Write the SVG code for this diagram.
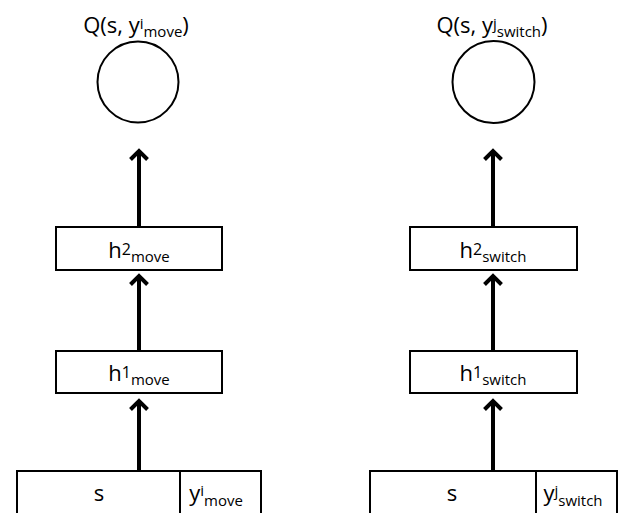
<svg xmlns="http://www.w3.org/2000/svg" width="619" height="513" viewBox="0 0 619 513">
  <style>
    .box { fill: #ffffff; stroke: #000000; stroke-width: 2; }
    .unit { fill: #ffffff; stroke: #000000; stroke-width: 2; }
    .lbl { font-family: "Open Sans", "Liberation Sans", Arial, sans-serif; font-size: 22px; fill: #000000; }
    .small { font-size: 15px; }
    .digit { font-size: 16px; }
    .edge { stroke: #000000; stroke-width: 4; fill: none; marker-end: url(#head); }
  </style>
  <defs>
    <!-- open chevron arrowhead, drawn in user units -->
    <marker id="head" markerUnits="userSpaceOnUse" viewBox="-12 -12 16 24" refX="0" refY="0" markerWidth="16" markerHeight="24" orient="auto" overflow="visible">
      <path d="M -8.5 -8.5 L 0 0 L -8.5 8.5" fill="none" stroke="#000000" stroke-width="4" stroke-linejoin="miter"/>
    </marker>
  </defs>
  <rect width="619" height="513" fill="#ffffff"/>

  <!-- left stack: move -->
  <g id="q-move">
    <circle class="unit" cx="138" cy="82" r="40.5"/>
    <text class="lbl" x="136" y="33" text-anchor="middle">Q(s, y<tspan class="small" dy="-4">i</tspan><tspan class="small" dy="8">move</tspan><tspan dy="-4">)</tspan></text>
  </g>
  <g id="h2-move">
    <rect class="box" x="56" y="227" width="166" height="43"/>
    <text class="lbl" x="139" y="258" text-anchor="middle">h<tspan class="digit" dy="-3">2</tspan><tspan class="small" dy="7">move</tspan></text>
  </g>
  <g id="h1-move">
    <rect class="box" x="56" y="351" width="166" height="42"/>
    <text class="lbl" x="139" y="381" text-anchor="middle">h<tspan class="digit" dy="-3">1</tspan><tspan class="small" dy="7">move</tspan></text>
  </g>
  <g id="input-move">
    <rect class="box" x="17" y="471" width="244" height="60"/>
    <line x1="180" y1="471" x2="180" y2="513" stroke="#000000" stroke-width="2"/>
    <text class="lbl" x="99" y="501" text-anchor="middle">s</text>
    <text class="lbl" x="216" y="501" text-anchor="middle">y<tspan class="small" dy="-5">i</tspan><tspan class="small" dy="10">move</tspan></text>
  </g>

  <!-- right stack: switch -->
  <g id="q-switch">
    <circle class="unit" cx="493.5" cy="82" r="41"/>
    <text class="lbl" x="492" y="33" text-anchor="middle">Q(s, y<tspan class="small" dy="-4">j</tspan><tspan class="small" dy="8">switch</tspan><tspan dy="-4">)</tspan></text>
  </g>
  <g id="h2-switch">
    <rect class="box" x="410" y="227" width="167" height="43"/>
    <text class="lbl" x="493" y="258" text-anchor="middle">h<tspan class="digit" dy="-3">2</tspan><tspan class="small" dy="7">switch</tspan></text>
  </g>
  <g id="h1-switch">
    <rect class="box" x="410" y="351" width="167" height="42"/>
    <text class="lbl" x="493" y="381" text-anchor="middle">h<tspan class="digit" dy="-3">1</tspan><tspan class="small" dy="7">switch</tspan></text>
  </g>
  <g id="input-switch">
    <rect class="box" x="370" y="471" width="247" height="60"/>
    <line x1="536" y1="471" x2="536" y2="513" stroke="#000000" stroke-width="2"/>
    <text class="lbl" x="452" y="501" text-anchor="middle">s</text>
    <text class="lbl" x="573" y="501" text-anchor="middle">y<tspan class="small" dy="-5">j</tspan><tspan class="small" dy="10">switch</tspan></text>
  </g>

  <!-- connectors -->
  <g id="connectors">
    <line class="edge" x1="139" y1="227" x2="139" y2="151"/>
    <line class="edge" x1="139" y1="351" x2="139" y2="276"/>
    <line class="edge" x1="139" y1="471" x2="139" y2="401"/>
    <line class="edge" x1="493" y1="227" x2="493" y2="151"/>
    <line class="edge" x1="493" y1="351" x2="493" y2="276"/>
    <line class="edge" x1="493" y1="471" x2="493" y2="401"/>
  </g>
</svg>
